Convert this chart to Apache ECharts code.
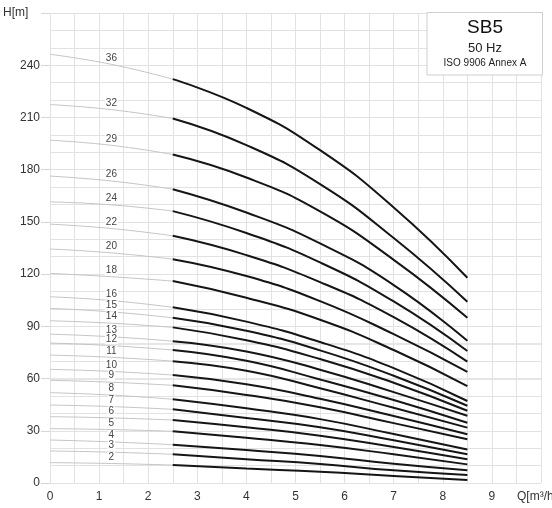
<!DOCTYPE html>
<html>
<head>
<meta charset="utf-8">
<title>SB5 50 Hz</title>
<script src="https://cdn.jsdelivr.net/npm/echarts@6/dist/echarts.min.js"></script>
<style>
    html, body { margin: 0; height: 100%; background: #fff; }
    #main { width: 552px; height: 508px; }
</style>
</head>
<body>
<div id="main"></div>
<script>
// stage count of each curve, top to bottom
var stages = [36, 32, 29, 26, 24, 22, 20, 18, 16, 15, 14, 13, 12, 11, 10, 9, 8, 7, 6, 5, 4, 3, 2];

// flow points (m3/h): thin part of the curve and the thick working range
var qThin = [0, 1.25, 2.5];
var qThick = [2.5, 4, 5.5, 7, 8.5];

// head H [m] read at each flow point, one value per stage
var h0   = [246.3, 217.4, 196.9, 176.3, 161.5, 148.7, 134.4, 120.4, 107.0, 100.3, 93.2, 85.5, 80.4, 73.5, 65.3, 59.0, 51.9, 44.8, 38.1, 31.2, 24.7, 18.4, 11.7];
var h125 = [240.5, 214.5, 194.0, 173.5, 159.8, 146.2, 132.2, 118.5, 104.8, 98.3, 91.8, 84.0, 78.9, 72.2, 64.1, 57.9, 50.5, 43.9, 37.4, 30.7, 23.6, 17.7, 11.2];
var h25  = [232.0, 209.4, 188.7, 168.8, 156.2, 142.0, 128.6, 116.0, 100.9, 94.9, 89.4, 81.5, 76.4, 70.0, 62.0, 56.1, 48.1, 42.3, 36.2, 29.7, 22.0, 16.5, 10.3];
var h4   = [215.5, 194.1, 175.5, 155.4, 143.6, 130.9, 118.9, 106.4, 92.7, 87.5, 82.0, 75.6, 70.2, 64.5, 56.7, 50.6, 42.9, 37.3, 32.0, 26.0, 18.9, 13.7, 8.3];
var h55  = [191.2, 171.7, 156.0, 137.6, 126.7, 115.4, 104.5, 93.8, 81.0, 76.2, 71.2, 65.1, 59.5, 54.4, 48.4, 43.5, 36.7, 32.0, 27.2, 21.8, 15.5, 10.9, 6.5];
var h7   = [158.3, 140.7, 128.2, 113.7, 104.3, 95.3, 85.5, 76.4, 66.0, 61.6, 57.6, 52.2, 47.7, 43.2, 38.5, 34.4, 28.1, 24.5, 20.7, 16.5, 11.1, 7.3, 4.0];
var h85  = [117.9, 104.1, 94.9, 81.7, 75.8, 69.7, 63.9, 55.7, 47.1, 44.4, 41.5, 38.6, 34.6, 31.8, 28.0, 25.1, 19.3, 16.5, 13.6, 10.7, 7.3, 4.6, 1.7];

var yTicks = [0, 30, 60, 90, 120, 150, 180, 210, 240];
var xTicks = [0, 1, 2, 3, 4, 5, 6, 7, 8, 9];
// grid rows that are drawn a bit heavier in the original sheet
var heavyRows = [60, 80];

var FONT = '"Liberation Sans", Arial, sans-serif';
var gridColor = '#e2e2e2';

var series = [];
for (var i = 0; i < stages.length; i++) {
    var thinVals = [h0[i], h125[i], h25[i]];
    var thickVals = [h25[i], h4[i], h55[i], h7[i], h85[i]];
    var thin = [];
    for (var j = 0; j < qThin.length; j++) {
        var item = { value: [qThin[j], thinVals[j]] };
        if (j === 1) {
            item.label = {
                show: true,
                position: 'top',
                distance: 1,
                formatter: String(stages[i]),
                fontSize: 10,
                fontFamily: FONT,
                color: '#444',
                backgroundColor: '#fff',
                padding: [0, 1]
            };
        }
        thin.push(item);
    }
    var thick = [];
    for (var k = 0; k < qThick.length; k++) {
        thick.push([qThick[k], thickVals[k]]);
    }
    series.push({
        type: 'line', name: stages[i] + ' thin', data: thin, smooth: true,
        showSymbol: true, showAllSymbol: true, symbol: 'circle', symbolSize: 1,
        itemStyle: { color: 'rgba(0,0,0,0)' },
        silent: true, z: 2,
        lineStyle: { color: '#c4c4c4', width: 1 }
    });
    series.push({
        type: 'line', name: stages[i] + ' thick', data: thick, smooth: true,
        showSymbol: false, symbol: 'none', silent: true, z: 3,
        lineStyle: { color: '#151515', width: 2 }
    });
}

series.push({
    type: 'line', data: [], silent: true, z: 1,
    markLine: {
        z: 1, silent: true, symbol: 'none', label: { show: false },
        lineStyle: { color: '#e6e6e6', width: 2, type: 'solid' },
        data: heavyRows.map(function (v) { return { yAxis: v }; })
    }
});

var chart = echarts.init(document.getElementById('main'));
chart.setOption({
    animation: false,
    grid: { left: 50, right: 11, top: 13, bottom: 25 },
    xAxis: [{
        type: 'value', min: 0, max: 10, interval: 0.5,
        axisLine: { show: false },
        axisTick: { show: false },
        splitLine: { show: true, lineStyle: { color: gridColor, width: 1 } },
        axisLabel: {
            margin: 8, fontSize: 12, fontFamily: FONT, color: '#333',
            formatter: function (v) { return xTicks.indexOf(v) >= 0 ? String(v) : ''; }
        }
    }, {
        type: 'value', position: 'top', min: 0, max: 10, interval: 0.5,
        axisLine: { show: false },
        axisTick: { show: true, length: 7, lineStyle: { color: gridColor } },
        axisLabel: { show: false },
        splitLine: { show: false }
    }],
    yAxis: [{
        type: 'value', min: 0, max: 270, interval: 10,
        axisLine: { show: false },
        axisTick: { show: false },
        axisLabel: { show: false },
        splitLine: { show: true, lineStyle: { color: gridColor, width: 1 } }
    }, {
        type: 'value', position: 'left', min: 0, max: 270, interval: 30,
        axisLine: { show: false },
        axisTick: { show: true, length: 9, lineStyle: { color: '#d6d6d6' } },
        splitLine: { show: false },
        axisLabel: {
            margin: 10, fontSize: 12, fontFamily: FONT, color: '#333',
            formatter: function (v) { return yTicks.indexOf(v) >= 0 ? String(v) : ''; }
        }
    }],
    series: series,
    graphic: [
        { type: 'text', z: 100, style: { x: 3, y: 13, text: 'H[m]', font: '12px ' + FONT, fill: '#333', textAlign: 'left', textVerticalAlign: 'middle' } },
        { type: 'text', z: 100, style: { x: 517, y: 497, text: 'Q[m³/h]', font: '12px ' + FONT, fill: '#333', textAlign: 'left', textVerticalAlign: 'middle' } },
        { type: 'rect', z: 100, shape: { x: 427, y: 12.5, width: 115.5, height: 62.5 }, style: { fill: '#fff', stroke: '#cfcfcf', lineWidth: 1 } },
        { type: 'text', z: 101, style: { x: 485, y: 28, text: 'SB5', font: '19px ' + FONT, fill: '#111', textAlign: 'center', textVerticalAlign: 'middle' } },
        { type: 'text', z: 101, style: { x: 485, y: 48, text: '50 Hz', font: '13px ' + FONT, fill: '#222', textAlign: 'center', textVerticalAlign: 'middle' } },
        { type: 'text', z: 101, style: { x: 485, y: 63.5, text: 'ISO 9906 Annex A', font: '10px ' + FONT, fill: '#222', textAlign: 'center', textVerticalAlign: 'middle' } }
    ]
});
</script>
</body>
</html>
